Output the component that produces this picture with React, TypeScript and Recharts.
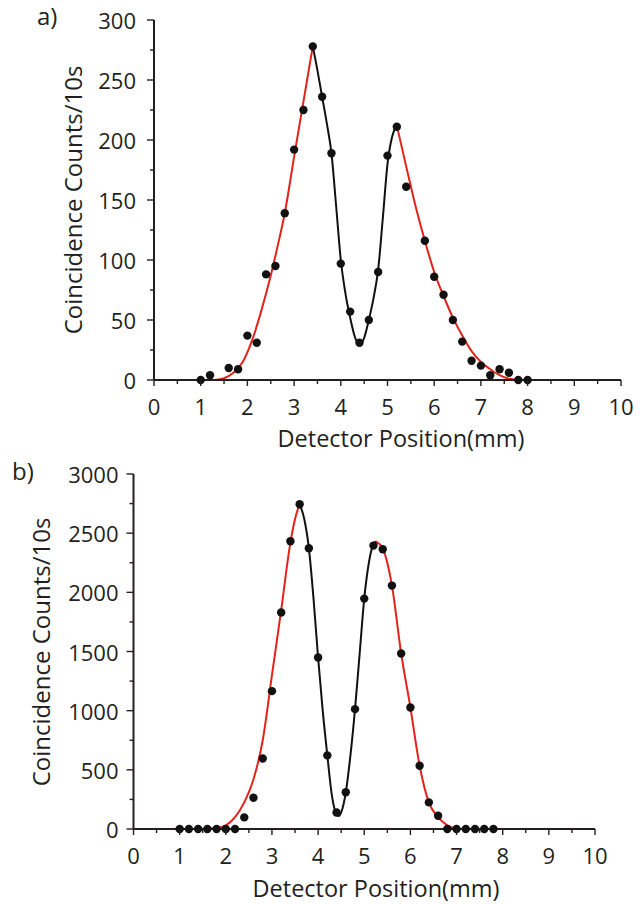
import React from 'react';
import { ComposedChart, Line, Scatter, XAxis, YAxis } from 'recharts';

// panel a) measured points
const positionsA = [1.0, 1.2, 1.6, 1.8, 2.0, 2.2, 2.4, 2.6, 2.8, 3.0, 3.2, 3.4, 3.6, 3.8, 4.0, 4.2, 4.4, 4.6, 4.8, 5.0, 5.2, 5.4, 5.8, 6.0, 6.2, 6.4, 6.6, 6.8, 7.0, 7.2, 7.4, 7.6, 7.8, 8.0];
const countsA = [0, 4, 10, 9, 37, 31, 88, 95, 139, 192, 225, 278, 236, 189, 97, 57, 31, 50, 90, 187, 211, 161, 116, 86, 71, 50, 32, 16, 12, 4, 9, 6, 0, 0];

// panel a) fitted curves (read off the figure)
const redLeftAX = [1.3, 1.5, 1.7, 1.9, 2.1, 2.3, 2.5, 2.65, 2.8, 3.0, 3.2, 3.4];
const redLeftAY = [0, 1.5, 6, 15, 33, 58, 87, 112, 139, 186, 232, 278];
const blackAX = [3.4, 3.5, 3.6, 3.7, 3.8, 3.9, 4.0, 4.1, 4.2, 4.3, 4.4, 4.5, 4.6, 4.7, 4.8, 4.9, 5.0, 5.1, 5.2];
const blackAY = [278, 258, 236, 214, 189, 145, 100, 72, 52, 36, 29, 35, 50, 68, 92, 135, 180, 203, 212];
const redRightAX = [5.2, 5.4, 5.6, 5.8, 6.0, 6.2, 6.4, 6.6, 6.8, 7.0, 7.2, 7.4, 7.6, 7.85];
const redRightAY = [212, 178, 145, 116, 90, 70, 52, 37, 24, 15, 9, 4, 1, 0];

// panel b) measured points
const positionsB = [1.0, 1.2, 1.4, 1.6, 1.8, 2.0, 2.2, 2.4, 2.6, 2.8, 3.0, 3.2, 3.4, 3.6, 3.8, 4.0, 4.2, 4.4, 4.6, 4.8, 5.0, 5.2, 5.4, 5.6, 5.8, 6.0, 6.2, 6.4, 6.6, 6.8, 7.0, 7.2, 7.4, 7.6, 7.8];
const countsB = [0, 0, 0, 0, 0, 0, 0, 98, 264, 596, 1165, 1829, 2432, 2744, 2373, 1449, 622, 140, 310, 1013, 1947, 2395, 2364, 2057, 1483, 1027, 535, 225, 112, 0, 0, 0, 0, 0, 0];

// panel b) fitted curves
const redLeftBX = [1.0, 1.4, 1.8, 2.0, 2.2, 2.4, 2.6, 2.8, 3.0, 3.2, 3.4, 3.5, 3.6];
const redLeftBY = [0, 0, 8, 30, 100, 225, 420, 750, 1300, 1850, 2420, 2620, 2744];
const blackBX = [3.6, 3.7, 3.8, 3.9, 4.0, 4.1, 4.2, 4.3, 4.4, 4.45, 4.5, 4.6, 4.7, 4.8, 4.9, 5.0, 5.1, 5.2, 5.25];
const blackBY = [2744, 2620, 2373, 1950, 1449, 1000, 622, 280, 125, 110, 140, 310, 620, 1013, 1480, 1947, 2250, 2410, 2430];
const redRightBX = [5.25, 5.4, 5.6, 5.8, 6.0, 6.2, 6.4, 6.6, 6.8, 7.0];
const redRightBY = [2430, 2370, 2057, 1483, 1027, 535, 225, 100, 30, 0];

const xTicks = [0, 0.5, 1, 1.5, 2, 2.5, 3, 3.5, 4, 4.5, 5, 5.5, 6, 6.5, 7, 7.5, 8, 8.5, 9, 9.5, 10];
const yTicksA = [0, 25, 50, 75, 100, 125, 150, 175, 200, 225, 250, 275, 300];
const yTicksB = [0, 250, 500, 750, 1000, 1250, 1500, 1750, 2000, 2250, 2500, 2750, 3000];

const zip = (xs: number[], ys: number[]) => xs.map((x, i) => ({ x, y: ys[i] }));

const INK = '#231f20';
const RED = '#e3231b';
const FONT = '"Open Sans", "Noto Sans", sans-serif';

const Dot = (props: any) => <circle cx={props.cx} cy={props.cy} r={4.2} fill="#111" />;

function makeTicks(majorY: number, gap: number) {
  const Bottom = ({ x, y, payload }: any) => {
    const major = Number.isInteger(payload.value);
    return (
      <g>
        <line x1={x} x2={x} y1={y} y2={y + (major ? 6 : 4)} stroke={INK} strokeWidth={1.4} />
        {major && (
          <text x={x} y={y + 35} textAnchor="middle" fontSize={22} fontFamily={FONT} fill={INK}>
            {payload.value}
          </text>
        )}
      </g>
    );
  };
  const Left = ({ x, y, payload }: any) => {
    const major = payload.value % majorY === 0;
    return (
      <g>
        <line x1={x} x2={x - (major ? 7 : 4)} y1={y} y2={y} stroke={INK} strokeWidth={1.4} />
        {major && (
          <text x={x - gap} y={y} textAnchor="end" dominantBaseline="central" fontSize={22} fontFamily={FONT} fill={INK}>
            {payload.value}
          </text>
        )}
      </g>
    );
  };
  const Top = ({ x, y }: any) => <line x1={x} x2={x} y1={y} y2={y + 3} stroke={INK} strokeWidth={1.2} />;
  const Right = ({ x, y }: any) => <line x1={x} x2={x - 3} y1={y} y2={y} stroke={INK} strokeWidth={1.2} />;
  return { Bottom, Left, Top, Right };
}

interface PanelProps {
  top: number;
  height: number;
  margin: { top: number; right: number; bottom: number; left: number };
  yWidth: number;
  xHeight: number;
  yMax: number;
  yTicks: number[];
  majorY: number;
  gap: number;
  points: { x: number; y: number }[];
  redLeft: { x: number; y: number }[];
  black: { x: number; y: number }[];
  redRight: { x: number; y: number }[];
}

function Panel(p: PanelProps) {
  const t = makeTicks(p.majorY, p.gap);
  const axisLine = { stroke: INK, strokeWidth: 2 };
  return (
    <div style={{ position: 'absolute', left: 0, top: p.top }}>
      <ComposedChart width={642} height={p.height} margin={p.margin}>
        <XAxis
          xAxisId="b"
          type="number"
          dataKey="x"
          domain={[0, 10]}
          ticks={xTicks}
          interval={0}
          height={p.xHeight}
          tickSize={0}
          tickMargin={0}
          tickLine={false}
          axisLine={axisLine}
          tick={<t.Bottom />}
        />
        <XAxis
          xAxisId="t"
          orientation="top"
          type="number"
          domain={[0, 10]}
          ticks={xTicks}
          interval={0}
          height={0}
          tickSize={0}
          tickMargin={0}
          tickLine={false}
          axisLine={axisLine}
          tick={<t.Top />}
        />
        <YAxis
          yAxisId="l"
          type="number"
          dataKey="y"
          domain={[0, p.yMax]}
          ticks={p.yTicks}
          interval={0}
          width={p.yWidth}
          tickSize={0}
          tickMargin={0}
          tickLine={false}
          axisLine={axisLine}
          tick={<t.Left />}
        />
        <YAxis
          yAxisId="r"
          orientation="right"
          type="number"
          domain={[0, p.yMax]}
          ticks={p.yTicks}
          interval={0}
          width={0}
          tickSize={0}
          tickMargin={0}
          tickLine={false}
          axisLine={axisLine}
          tick={<t.Right />}
        />
        <Line xAxisId="b" yAxisId="l" data={p.redLeft} dataKey="y" type="monotone" stroke={RED} strokeWidth={2} dot={false} isAnimationActive={false} />
        <Line xAxisId="b" yAxisId="l" data={p.black} dataKey="y" type="monotone" stroke="#111" strokeWidth={2} dot={false} isAnimationActive={false} />
        <Line xAxisId="b" yAxisId="l" data={p.redRight} dataKey="y" type="monotone" stroke={RED} strokeWidth={2} dot={false} isAnimationActive={false} />
        <Scatter xAxisId="b" yAxisId="l" data={p.points} dataKey="y" shape={<Dot />} isAnimationActive={false} />
      </ComposedChart>
    </div>
  );
}

export default function App() {
  const textStyle = { fontFamily: FONT, fill: INK } as const;
  return (
    <div style={{ position: 'absolute', left: 0, top: 0, width: 642, height: 904, background: '#fff' }}>
      <Panel
        top={0}
        height={450}
        margin={{ top: 20, right: 21, bottom: 0, left: 0 }}
        yWidth={154}
        xHeight={70}
        yMax={300}
        yTicks={yTicksA}
        majorY={50}
        gap={18}
        points={zip(positionsA, countsA)}
        redLeft={zip(redLeftAX, redLeftAY)}
        black={zip(blackAX, blackAY)}
        redRight={zip(redRightAX, redRightAY)}
      />
      <Panel
        top={454}
        height={450}
        margin={{ top: 20, right: 47, bottom: 0, left: 0 }}
        yWidth={133.5}
        xHeight={75}
        yMax={3000}
        yTicks={yTicksB}
        majorY={500}
        gap={15}
        points={zip(positionsB, countsB)}
        redLeft={zip(redLeftBX, redLeftBY)}
        black={zip(blackBX, blackBY)}
        redRight={zip(redRightBX, redRightBY)}
      />
      <svg width={642} height={904} style={{ position: 'absolute', left: 0, top: 0, pointerEvents: 'none' }}>
        <text x={37} y={25} fontSize={24} {...textStyle}>a)</text>
        <text x={12} y={480} fontSize={24} {...textStyle}>b)</text>
        <text transform="translate(82,200) rotate(-90)" textAnchor="middle" fontSize={24} {...textStyle}>
          Coincidence Counts/10s
        </text>
        <text transform="translate(50,652) rotate(-90)" textAnchor="middle" fontSize={24} {...textStyle}>
          Coincidence Counts/10s
        </text>
        <text x={401} y={447} textAnchor="middle" fontSize={23.5} {...textStyle}>Detector Position(mm)</text>
        <text x={376} y={897} textAnchor="middle" fontSize={23.5} {...textStyle}>Detector Position(mm)</text>
      </svg>
    </div>
  );
}
